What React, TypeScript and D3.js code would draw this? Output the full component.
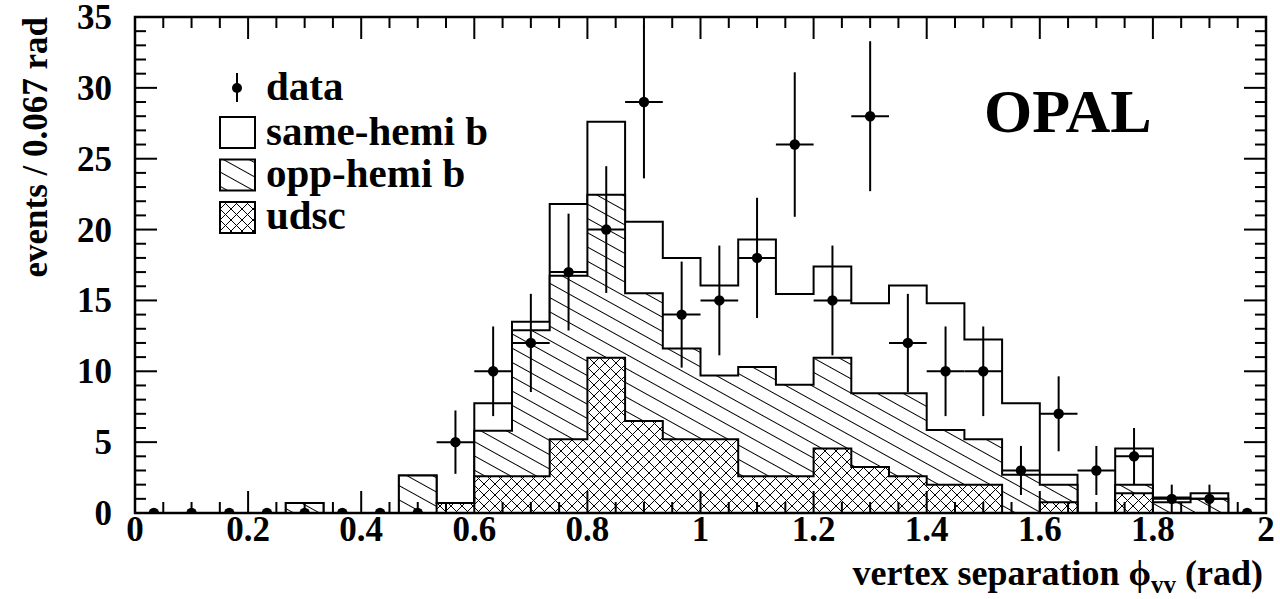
import React from "react";
import * as d3 from "d3";

// ---- data (30 bins from 0 to 2 rad, width 0.0667) ----
const nBins = 30;
const xMin = 0;
const xMax = 2;
const dataCounts = [0, 0, 0, 0, 0, 0, 0, 0, 5, 10, 12, 17, 20, 29, 14, 15, 18, 26, 15, 28, 12, 10, 10, 3, 7, 3, 4, 1, 1, 0];
const udsc = [0, 0, 0, 0, 0, 0, 0, 0, 0.7, 2.6, 2.6, 5.2, 10.95, 6.5, 5.2, 5.2, 2.6, 2.6, 4.55, 3.25, 2.6, 2.0, 2.0, 0, 0.75, 0, 1.4, 0, 0, 0];
const oppHemi = [0, 0, 0, 0, 0.7, 0, 0, 2.65, 0, 3.2, 10.3, 11.55, 11.5, 9.0, 6.4, 4.5, 7.7, 6.45, 6.4, 5.2, 5.85, 3.85, 3.2, 2.7, 1.25, 0, 0.6, 0.75, 1.0, 0];
const sameHemi = [0, 0, 0, 0, 0, 0, 0, 0, 0, 1.95, 0.6, 5.05, 5.15, 5.05, 6.4, 6.35, 9.0, 6.4, 6.45, 6.35, 7.6, 8.95, 7.05, 5.05, 0.7, 0, 2.55, 0.35, 0.4, 0];
const xTickLabels = [0, 0.2, 0.4, 0.6, 0.8, 1, 1.2, 1.4, 1.6, 1.8, 2];
const yTickLabels = [0, 5, 10, 15, 20, 25, 30, 35];
const legendLabels = ["data", "same-hemi b", "opp-hemi b", "udsc"];

const W = 1280;
const H = 599;
const L = 135, R = 1266, T = 17, B = 513;
const FONT = "'Liberation Serif', 'Times New Roman', Times, serif";

export default function App() {
  const x = d3.scaleLinear().domain([xMin, xMax]).range([L, R]);
  const y = d3.scaleLinear().domain([0, 35]).range([B, T]);
  const bw = (xMax - xMin) / nBins;

  const cumOpp = udsc.map((u, i) => u + oppHemi[i]);
  const cumTot = cumOpp.map((c, i) => c + sameHemi[i]);

  const line = d3.line<[number, number]>().x((d) => x(d[0])).y((d) => y(d[1]));
  const stepPts = (vals: number[]): [number, number][] => {
    const pts: [number, number][] = [[xMin, 0]];
    vals.forEach((v, i) => {
      pts.push([xMin + i * bw, v]);
      pts.push([xMin + (i + 1) * bw, v]);
    });
    pts.push([xMax, 0]);
    return pts;
  };
  const histPath = (vals: number[]) => line(stepPts(vals)) as string;

  const xMinor = d3.range(0, 41).map((i) => i * 0.05);
  const yMinor = d3.range(0, 36);

  return (
    <svg width={W} height={H} style={{ position: "fixed", left: 0, top: 0, background: "#fff" }}
      fontFamily={FONT} fontWeight="bold">
      <defs>
        <clipPath id="plotClip">
          <rect x={L} y={T} width={R - L} height={B - T} />
        </clipPath>
        <pattern id="hatch" patternUnits="userSpaceOnUse" width={40} height={12.5}
          patternTransform="rotate(29)">
          <rect width={40} height={12.5} fill="#fff" />
          <line x1={0} y1={6.25} x2={40} y2={6.25} stroke="#000" strokeWidth={1} />
        </pattern>
        <pattern id="xhatch" patternUnits="userSpaceOnUse" width={11} height={11}>
          <rect width={11} height={11} fill="#fff" />
          <path d="M-1,-1 L12,12 M-1,12 L12,-1" stroke="#000" strokeWidth={1} />
        </pattern>
      </defs>
      <rect x={0} y={0} width={W} height={H} fill="#fff" />

      <g clipPath="url(#plotClip)">
        <path d={histPath(cumTot)} fill="#fff" stroke="#000" strokeWidth={2} />
        <path d={histPath(cumOpp)} fill="url(#hatch)" stroke="#000" strokeWidth={2} />
        <path d={histPath(udsc)} fill="url(#xhatch)" stroke="#000" strokeWidth={2} />

        {dataCounts.map((n, i) => {
          const cx = x(xMin + (i + 0.5) * bw);
          const e = Math.sqrt(n);
          return (
            <g key={i}>
              {n > 0 && (
                <>
                  <line x1={cx} x2={cx} y1={y(n - e)} y2={y(n + e)} stroke="#000" strokeWidth={2} />
                  <line x1={x(xMin + i * bw)} x2={x(xMin + (i + 1) * bw)} y1={y(n)} y2={y(n)} stroke="#000" strokeWidth={2} />
                </>
              )}
              <circle cx={cx} cy={y(n)} r={5.2} fill="#000" />
            </g>
          );
        })}
      </g>

      {/* ticks */}
      <g stroke="#000" strokeWidth={2}>
        {xMinor.map((v, i) => {
          const major = i % 4 === 0;
          const len = major ? 22 : 11;
          if (v <= 0 || v >= 2) return null;
          return (
            <g key={"xt" + i}>
              <line x1={x(v)} x2={x(v)} y1={B} y2={B - len} />
              <line x1={x(v)} x2={x(v)} y1={T} y2={T + len} />
            </g>
          );
        })}
        {yMinor.map((v) => {
          const major = v % 5 === 0;
          const len = major ? 22 : 11;
          if (v <= 0 || v >= 35) return null;
          return (
            <g key={"yt" + v}>
              <line x1={L} x2={L + len} y1={y(v)} y2={y(v)} />
              <line x1={R} x2={R - len} y1={y(v)} y2={y(v)} />
            </g>
          );
        })}
      </g>
      <rect x={L} y={T} width={R - L} height={B - T} fill="none" stroke="#000" strokeWidth={2.5} />

      {/* tick labels */}
      {xTickLabels.map((v) => (
        <text key={"xl" + v} x={x(v)} y={541} textAnchor="middle" fontSize={35}>{String(v)}</text>
      ))}
      {yTickLabels.map((v) => (
        <text key={"yl" + v} x={112} y={y(v) + 12} textAnchor="end" fontSize={35}>{String(v)}</text>
      ))}

      {/* axis titles */}
      <text x={1263} y={585} textAnchor="end" fontSize={36}>
        vertex separation <tspan>{"\u03D5"}</tspan>
        <tspan dy={8} fontSize={25}>vv</tspan>
        <tspan dy={-8}> (rad)</tspan>
      </text>
      <text transform={`translate(47, ${T}) rotate(-90)`} textAnchor="end" fontSize={35}>
        events / 0.067 rad
      </text>

      {/* OPAL label */}
      <text x={984} y={132} fontSize={62}>OPAL</text>

      {/* legend */}
      <g>
        <line x1={237} x2={237} y1={73} y2={102} stroke="#000" strokeWidth={2} />
        <circle cx={237} cy={88} r={5} fill="#000" />
        <text x={266} y={100} fontSize={41}>{legendLabels[0]}</text>

        <rect x={220} y={117} width={35} height={31} fill="#fff" stroke="#000" strokeWidth={2} />
        <text x={266} y={145} fontSize={41}>{legendLabels[1]}</text>

        <rect x={220} y={159.5} width={35} height={31} fill="url(#hatch)" stroke="#000" strokeWidth={2} />
        <text x={266} y={187} fontSize={41}>{legendLabels[2]}</text>

        <rect x={220} y={202} width={35} height={31} fill="url(#xhatch)" stroke="#000" strokeWidth={2} />
        <text x={266} y={229} fontSize={41}>{legendLabels[3]}</text>
      </g>
    </svg>
  );
}
